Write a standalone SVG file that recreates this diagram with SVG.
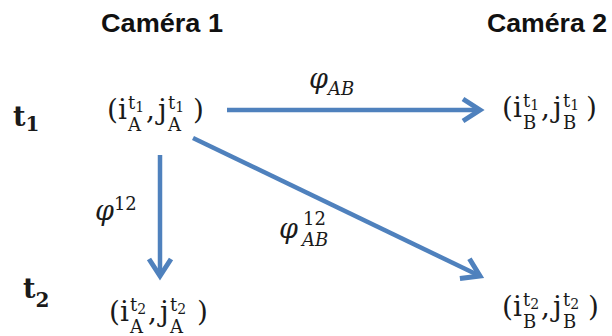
<svg xmlns="http://www.w3.org/2000/svg" width="612" height="336" viewBox="0 0 612 336">
<defs>
<style>
.hdr{font-family:"Liberation Sans","DejaVu Sans",sans-serif;font-weight:bold;font-size:25px;fill:#111}
.m{font-family:"DejaVu Serif","Liberation Serif",serif;fill:#1a1a1a}
.big{font-size:28px}
.sm{font-size:18px}
.xs{font-size:14px}
.it{font-style:italic}
.bd{font-weight:bold}
.arr{stroke:#4F81BD;stroke-width:4.5;fill:none}
</style>
<marker id="ah" markerUnits="userSpaceOnUse" orient="auto" markerWidth="40" markerHeight="40" refX="0" refY="0" viewBox="-25 -20 40 40" overflow="visible">
<path d="M-17,-11 L0,0 L-17,11" fill="none" stroke="#4F81BD" stroke-width="5" stroke-linejoin="miter"/>
</marker>
</defs>
<rect width="612" height="336" fill="#fff"/>
<g id="headers">
<text class="hdr" x="101" y="32" textLength="122" lengthAdjust="spacingAndGlyphs">Caméra 1</text>
<text class="hdr" x="487" y="32" textLength="120" lengthAdjust="spacingAndGlyphs">Caméra 2</text>
</g>
<g id="time-labels">
<text class="m bd" x="13" y="126" font-size="27">t<tspan font-size="20" dy="5">1</tspan></text>
<text class="m bd" x="23" y="298" font-size="27">t<tspan font-size="20" dy="9">2</tspan></text>
</g>
<g id="connectors">
<line class="arr" x1="227" y1="110" x2="480" y2="110" marker-end="url(#ah)"/>
<line class="arr" x1="160" y1="155" x2="160" y2="276" marker-end="url(#ah)"/>
<line class="arr" x1="193" y1="138" x2="480" y2="276" marker-end="url(#ah)"/>
<text class="m it" font-size="27" x="309" y="88">φ<tspan class="sm" dy="7">AB</tspan></text>
<text class="m it" font-size="27" x="95" y="220">φ<tspan class="sm" font-style="normal" dy="-10">12</tspan></text>
<g>
<text class="m it" font-size="27" x="279" y="238">φ</text>
<text class="m sm" x="303" y="225">12</text>
<text class="m sm it" x="302" y="246">AB</text>
</g>
</g>
<g id="node-A1" transform="translate(107,119)">
<text class="m big" x="0" y="0">(</text>
<text class="m big" x="11" y="0">i</text>
<text class="m sm" x="21" y="-10">t<tspan class="xs" dy="3">1</tspan></text>
<text class="m sm" x="21" y="12">A</text>
<text class="m big" x="39" y="0">,</text>
<text class="m big" x="51" y="0">j</text>
<text class="m sm" x="61" y="-10">t<tspan class="xs" dy="3">1</tspan></text>
<text class="m sm" x="61" y="12">A</text>
<text class="m big" x="86" y="0">)</text>
</g>
<g id="node-B1" transform="translate(502,117)">
<text class="m big" x="0" y="0">(</text>
<text class="m big" x="11" y="0">i</text>
<text class="m sm" x="21" y="-10">t<tspan class="xs" dy="3">1</tspan></text>
<text class="m sm" x="21" y="12">B</text>
<text class="m big" x="39" y="0">,</text>
<text class="m big" x="51" y="0">j</text>
<text class="m sm" x="61" y="-10">t<tspan class="xs" dy="3">1</tspan></text>
<text class="m sm" x="61" y="12">B</text>
<text class="m big" x="84" y="0">)</text>
</g>
<g id="node-A2" transform="translate(109,321)">
<text class="m big" x="0" y="0">(</text>
<text class="m big" x="11" y="0">i</text>
<text class="m sm" x="21" y="-10">t<tspan class="xs" dy="3">2</tspan></text>
<text class="m sm" x="21" y="12">A</text>
<text class="m big" x="39" y="0">,</text>
<text class="m big" x="51" y="0">j</text>
<text class="m sm" x="61" y="-10">t<tspan class="xs" dy="3">2</tspan></text>
<text class="m sm" x="61" y="12">A</text>
<text class="m big" x="88" y="0">)</text>
</g>
<g id="node-B2" transform="translate(502,316)">
<text class="m big" x="0" y="0">(</text>
<text class="m big" x="11" y="0">i</text>
<text class="m sm" x="21" y="-10">t<tspan class="xs" dy="3">2</tspan></text>
<text class="m sm" x="21" y="12">B</text>
<text class="m big" x="39" y="0">,</text>
<text class="m big" x="51" y="0">j</text>
<text class="m sm" x="61" y="-10">t<tspan class="xs" dy="3">2</tspan></text>
<text class="m sm" x="61" y="12">B</text>
<text class="m big" x="86" y="0">)</text>
</g>
</svg>
